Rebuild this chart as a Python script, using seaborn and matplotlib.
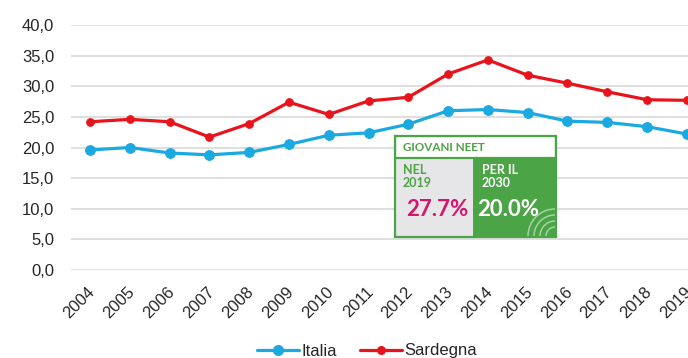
import matplotlib
matplotlib.use("Agg")
import matplotlib.pyplot as plt
from matplotlib.patches import Rectangle, Arc
from matplotlib.lines import Line2D
from matplotlib.transforms import ScaledTranslation
import seaborn as sns
import pandas as pd

# NEET share (15-29 years), percentage
years = list(range(2004, 2020))
italia = [19.6, 20.0, 19.1, 18.8, 19.2, 20.5, 22.0, 22.4, 23.8, 26.0, 26.2, 25.7, 24.3, 24.1, 23.4, 22.2]
sardegna = [24.2, 24.6, 24.2, 21.7, 23.9, 27.4, 25.4, 27.6, 28.2, 32.0, 34.3, 31.8, 30.5, 29.1, 27.8, 27.7]
series_names = ["Italia", "Sardegna"]
y_ticks = [0, 5, 10, 15, 20, 25, 30, 35, 40]

box_title = "GIOVANI NEET"
box_left_label = "NEL\n2019"
box_left_value = "27.7%"
box_right_label = "PER IL\n2030"
box_right_value = "20.0%"

BLUE = "#1ba9e1"
RED = "#e8131b"
GREEN = "#4ba446"
MAGENTA = "#d5166c"
GRID = "#dcdcdc"
TEXT = "#262626"

sns.set_theme(style="white")
plt.rcParams["font.family"] = ["Liberation Sans", "DejaVu Sans"]

W, H = 688, 358
fig = plt.figure(figsize=(W / 100, H / 100), dpi=100)
ax = fig.add_axes([71 / W, (H - 270) / H, (W - 71) / W, 245 / H])

df = pd.DataFrame({
    "anno": years * 2,
    "valore": italia + sardegna,
    "serie": [series_names[0]] * len(years) + [series_names[1]] * len(years),
})

sns.lineplot(data=df[df.serie == "Italia"], x="anno", y="valore", ax=ax,
             color=BLUE, lw=2.3, marker="o", ms=7, mec=BLUE, legend=False, zorder=3)
sns.lineplot(data=df[df.serie == "Sardegna"], x="anno", y="valore", ax=ax,
             color=RED, lw=2.3, marker="o", ms=5.5, mec=RED, legend=False, zorder=3)

ax.set_xlim(years[0] - 0.48, years[-1] + 0.03)
ax.set_ylim(0, 40)
ax.set_yticks(y_ticks)
ax.set_yticklabels([f"{v:.1f}".replace(".", ",") for v in y_ticks])
ax.set_xticks(years)
ax.set_xticklabels([str(y) for y in years], rotation=45, ha="right",
                   rotation_mode="anchor")
ax.grid(axis="y", color=GRID, lw=1.3, zorder=0)
ax.grid(axis="x", visible=False)
for s in ax.spines.values():
    s.set_visible(False)
ax.tick_params(axis="y", length=0, pad=12, labelsize=12, labelcolor=TEXT)
ax.tick_params(axis="x", length=0, pad=10, labelsize=12, labelcolor=TEXT)
shift = ScaledTranslation(-3 / 100, 0, fig.dpi_scale_trans)
for lab in ax.get_xticklabels():
    lab.set_transform(lab.get_transform() + shift)
ax.set_xlabel("")
ax.set_ylabel("")

handles = [
    Line2D([], [], color=BLUE, lw=2.3, marker="o", ms=7, label=series_names[0]),
    Line2D([], [], color=RED, lw=2.3, marker="o", ms=5.5, label=series_names[1]),
]
fig.legend(handles=handles, loc="center", bbox_to_anchor=(367 / W, (H - 351) / H),
           ncol=2, frameon=False, fontsize=12, handlelength=2.5,
           handletextpad=0.15, columnspacing=1.4, labelcolor=TEXT)

# Callout box with the 2019 value and the 2030 target
bx = fig.add_axes([395 / W, (H - 237) / H, 161 / W, 101 / H])
bx.set_xlim(0, 161)
bx.set_ylim(101, 0)
bx.axis("off")
bx.add_patch(Rectangle((0, 22), 78, 79, facecolor="#e6e6e8", edgecolor="none"))
bx.add_patch(Rectangle((78, 22), 83, 79, facecolor=GREEN, edgecolor="none"))
bx.add_patch(Rectangle((0, 0), 161, 22, facecolor="white", edgecolor=GREEN, lw=1.6))
bx.add_patch(Rectangle((0, 0), 161, 101, facecolor="none", edgecolor=GREEN, lw=1.6,
                       clip_on=False))
for r in (9, 15, 21, 27):
    bx.add_patch(Arc((160, 100), 2 * r, 2 * r, theta1=180, theta2=270,
                     color="white", lw=1.0, alpha=0.55))

box_font = ["Lato", "DejaVu Sans"]
bx.text(8, 11.5, box_title, color=GREEN, fontsize=8.4, fontweight="bold",
        family=box_font, va="center", ha="left")
bx.text(8, 28, box_left_label, color=GREEN, fontsize=9.0, fontweight="bold",
        family=box_font, va="top", ha="left", linespacing=1.05)
bx.text(11, 73, box_left_value, color=MAGENTA, fontsize=16, fontweight="bold",
        family=box_font, va="center", ha="left")
bx.text(87, 28, box_right_label, color="white", fontsize=9.0, fontweight="bold",
        family=box_font, va="top", ha="left", linespacing=1.05)
bx.text(82, 73, box_right_value, color="white", fontsize=16, fontweight="bold",
        family=box_font, va="center", ha="left")

fig.savefig("out.png", dpi=100)
